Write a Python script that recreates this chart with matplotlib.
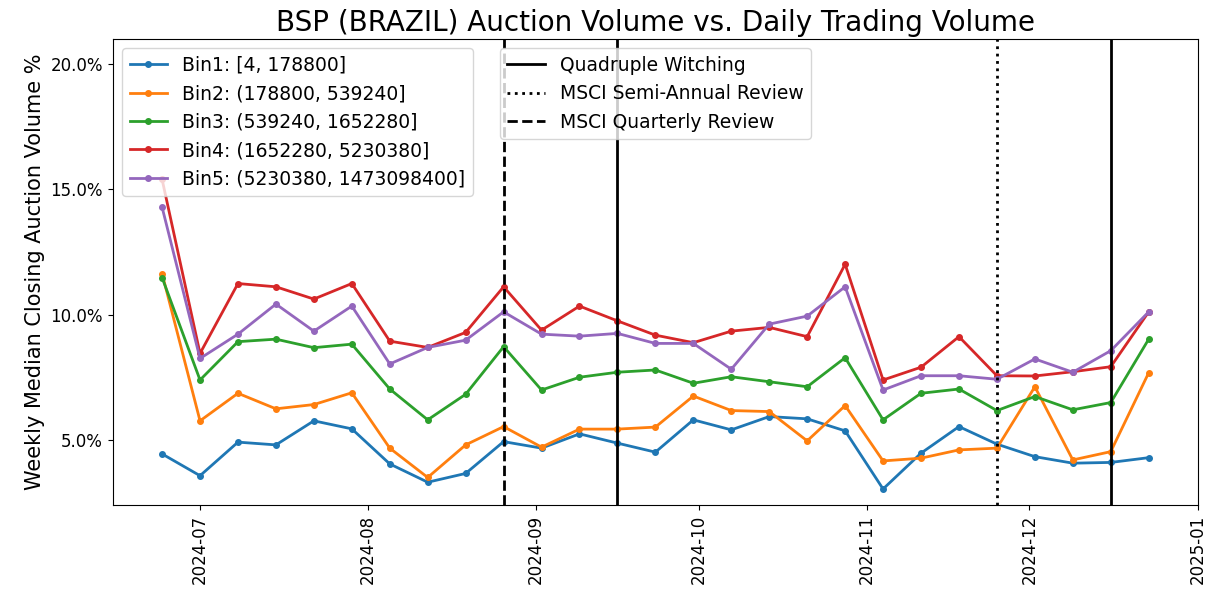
import pandas as pd
import matplotlib
matplotlib.use('Agg')
import matplotlib.pyplot as plt
import matplotlib.dates as mdates
from matplotlib.lines import Line2D
from matplotlib.ticker import PercentFormatter, MultipleLocator

# Weekly dates (Mondays)
weeks = pd.date_range('2024-06-24', '2024-12-23', freq='7D')

bin_labels = ['Bin1: [4, 178800]',
              'Bin2: (178800, 539240]',
              'Bin3: (539240, 1652280]',
              'Bin4: (1652280, 5230380]',
              'Bin5: (5230380, 1473098400]']

# weekly median closing auction volume, in %
bin1 = [4.44, 3.57, 4.91, 4.80, 5.76, 5.44, 4.04, 3.31, 3.66, 4.93, 4.67, 5.24, 4.87, 4.51,
        5.80, 5.40, 5.93, 5.84, 5.36, 3.04, 4.47, 5.53, 4.83, 4.33, 4.07, 4.10, 4.29]
bin2 = [11.64, 5.76, 6.86, 6.24, 6.41, 6.88, 4.67, 3.50, 4.80, 5.53, 4.71, 5.43, 5.43, 5.51,
        6.75, 6.17, 6.13, 4.96, 6.37, 4.16, 4.27, 4.60, 4.67, 7.12, 4.20, 4.53, 7.68]
bin3 = [11.48, 7.39, 8.92, 9.02, 8.68, 8.82, 7.03, 5.80, 6.82, 8.72, 6.99, 7.50, 7.70, 7.79,
        7.26, 7.52, 7.32, 7.12, 8.28, 5.80, 6.86, 7.03, 6.17, 6.73, 6.20, 6.49, 9.02]
bin4 = [15.4, 8.45, 11.24, 11.11, 10.62, 11.24, 8.94, 8.69, 9.29, 11.11, 9.38, 10.34, 9.75, 9.18,
        8.88, 9.34, 9.49, 9.12, 12.01, 7.39, 7.90, 9.12, 7.56, 7.55, 7.72, 7.92, 10.11]
bin5 = [14.29, 8.25, 9.22, 10.42, 9.34, 10.34, 8.03, 8.69, 8.98, 10.11, 9.22, 9.14, 9.25, 8.85,
        8.85, 7.82, 9.62, 9.94, 11.11, 6.99, 7.56, 7.56, 7.42, 8.23, 7.70, 8.56, 10.11]

# event weeks
quad_witching = ['2024-09-16', '2024-12-16']
msci_semi_annual = ['2024-11-25']
msci_quarterly = ['2024-08-26']

fig = plt.figure(figsize=(12.11, 6.02), dpi=100)
ax = fig.add_axes([0.0931, 0.1611, 0.8962, 0.7741])

for vals, lab in zip([bin1, bin2, bin3, bin4, bin5], bin_labels):
    ax.plot(weeks, vals, marker='o', markersize=4, linewidth=2, label=lab)

for d in quad_witching:
    ax.axvline(pd.Timestamp(d), color='black', linestyle='-', linewidth=2)
for d in msci_semi_annual:
    ax.axvline(pd.Timestamp(d), color='black', linestyle=':', linewidth=2)
for d in msci_quarterly:
    ax.axvline(pd.Timestamp(d), color='black', linestyle='--', linewidth=2)

ax.set_ylim(2.4, 21.0)
ax.yaxis.set_major_locator(MultipleLocator(5))
ax.yaxis.set_major_formatter(PercentFormatter(decimals=1))
ax.xaxis.set_major_locator(mdates.MonthLocator())
ax.xaxis.set_major_formatter(mdates.DateFormatter('%Y-%m'))
ax.tick_params(axis='x', labelrotation=90, labelsize=12)
ax.tick_params(axis='y', labelsize=12)

ax.set_ylabel('Weekly Median Closing Auction Volume %', fontsize=15)
ax.set_title('BSP (BRAZIL) Auction Volume vs. Daily Trading Volume', fontsize=20)

leg1 = ax.legend(loc='upper left', fontsize=13.5)
ax.add_artist(leg1)
event_handles = [Line2D([0], [0], color='black', linestyle='-', linewidth=2),
                 Line2D([0], [0], color='black', linestyle=':', linewidth=2),
                 Line2D([0], [0], color='black', linestyle='--', linewidth=2)]
ax.legend(event_handles, ['Quadruple Witching', 'MSCI Semi-Annual Review', 'MSCI Quarterly Review'],
          loc='upper center', fontsize=13.5)

fig.savefig('out.png', dpi=100)
